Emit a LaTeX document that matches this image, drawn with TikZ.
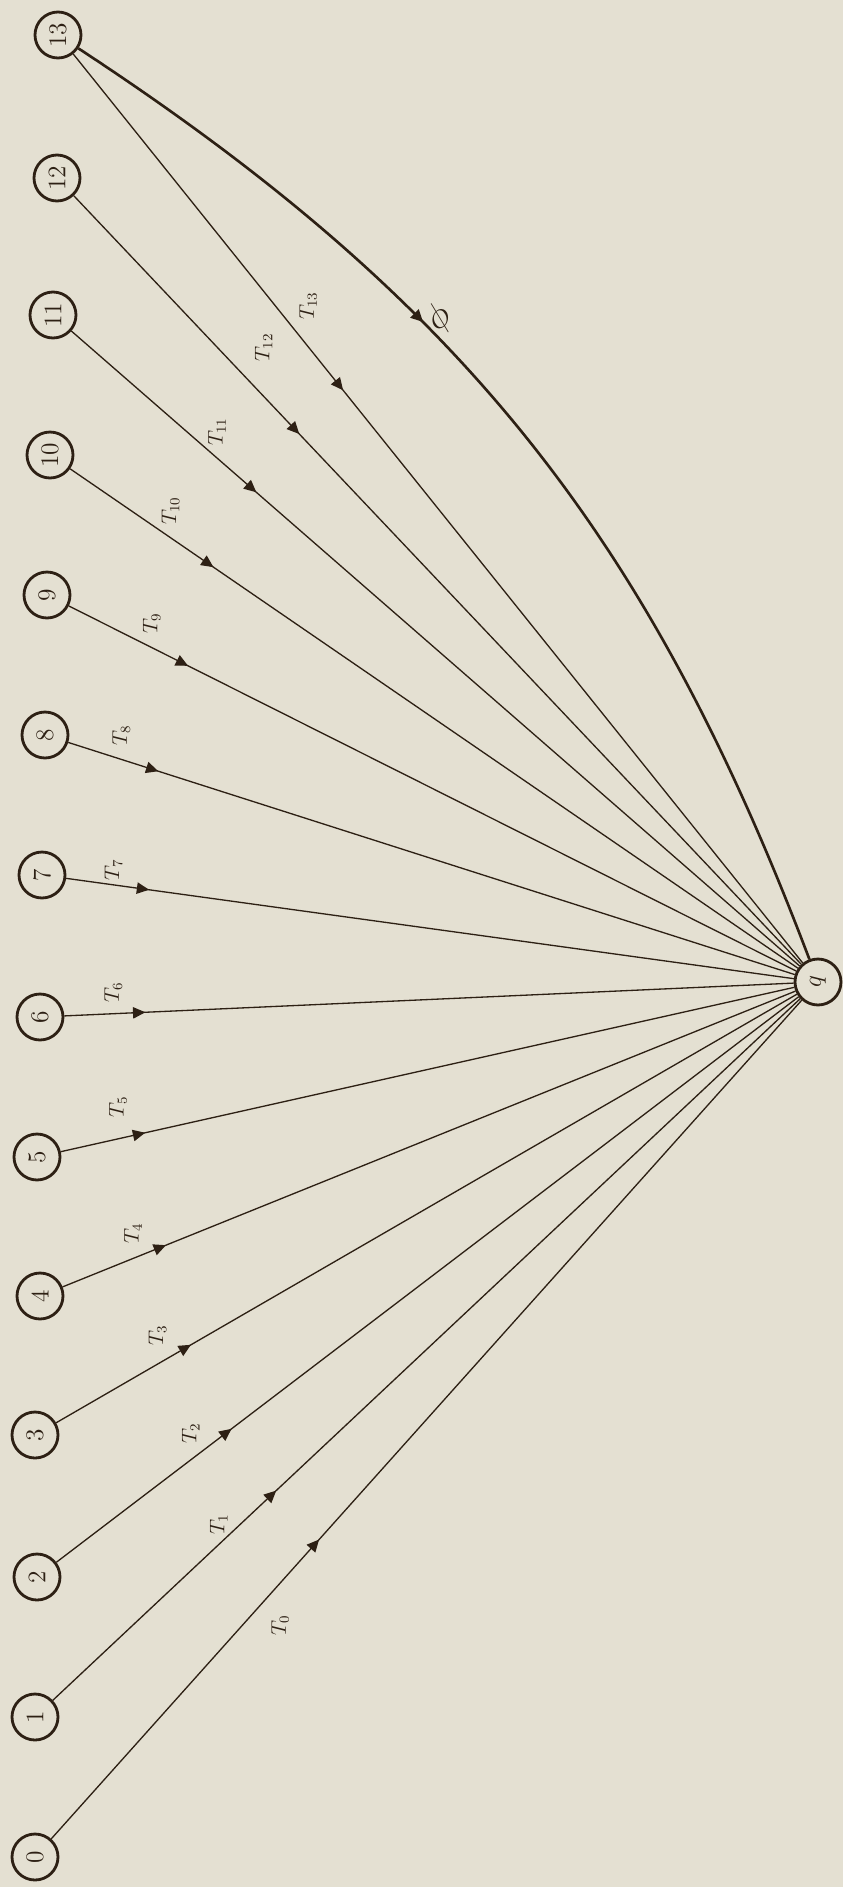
\documentclass[tikz,border=0pt]{standalone}
\usepackage{amsmath,amssymb}
\usepackage{xcolor}
\usepackage{tikz}
\usetikzlibrary{arrows.meta, decorations.markings, positioning}

\definecolor{paper}{RGB}{228,224,210}
\definecolor{ink}{RGB}{45,32,20}

\begin{document}
\begin{tikzpicture}[x=0.02cm, y=-0.02cm,
  every node/.style={font=\Large, text=ink},
  state/.style={circle, draw=ink, line width=1.6pt, minimum size=0.92cm,
                inner sep=0pt, rotate=90},
  trans/.style={draw=ink, line width=0.75pt,
                decoration={markings, mark=at position #1 with
                  {\arrow{Triangle[length=7pt, width=6.5pt]}}},
                postaction={decorate}},
  lbl/.style={rotate=90, font=\large},
]
  % paper
  \fill[paper] (0,0) rectangle (843,1887);
  \useasboundingbox (0,0) rectangle (843,1887);

  % states 0..13 on the left, q on the right
  \foreach \i/\x/\y in {0/35/1857, 1/35/1717, 2/37/1577, 3/35/1435,
                        4/40/1296, 5/37/1157, 6/40/1017, 7/42/875,
                        8/45/735, 9/47/595, 10/50/455, 11/53/315,
                        12/57/178, 13/58/35}
    \node[state] (n\i) at (\x,\y) {\i};
  \node[state] (q) at (818,982) {$q$};

  % transitions T_i into q
  \foreach \i/\a/\l/\o in {0/0.357/0.305/42, 1/0.299/0.222/-20,
                           2/0.236/0.181/-27, 3/0.182/0.137/-29,
                           4/0.141/0.096/-25, 5/0.115/0.078/-32,
                           6/0.111/0.067/-21, 7/0.114/0.065/-15,
                           8/0.124/0.073/-24, 9/0.164/0.114/-24,
                           10/0.197/0.138/-27, 11/0.254/0.200/-26,
                           12/0.310/0.261/-49, 13/0.370/0.322/-41}
    \draw[trans=\a] (n\i) -- node[shift={(0,\o)}, lbl, pos=\l] {$T_{\i}$} (q);

  % curved branch from 13
  \draw[trans=0.37, line width=1.5pt] (n13) to[bend left=18]
        node[pos=0.37, shift={(9,-11)}, rotate=45, font=\huge] {$\phi$} (q);

\end{tikzpicture}
\end{document}
